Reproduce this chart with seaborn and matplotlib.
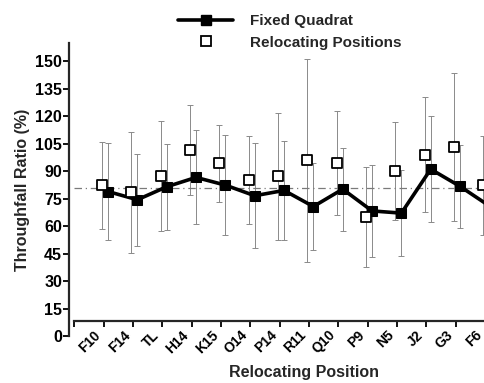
import numpy as np
import pandas as pd
import seaborn as sns
import matplotlib.pyplot as plt
import matplotlib.transforms as mtransforms
from matplotlib.lines import Line2D

# --- data ---
positions = ["F10", "F14", "TL", "H14", "K15", "O14", "P14",
             "R11", "Q10", "P9", "N5", "J2", "G3", "F6"]

fixed_mean = [78.9, 74.4, 81.5, 86.6, 82.4, 76.6, 79.5,
              70.7, 80.2, 68.3, 67.1, 91.1, 81.7, 71.0]
fixed_err = [26.7, 25.0, 23.6, 25.7, 27.4, 28.6, 27.1,
             23.7, 22.7, 24.9, 23.4, 29.0, 22.6, 25.0]

reloc_mean = [82.2, 78.4, 87.5, 101.5, 94.4, 85.3, 87.1,
              95.9, 94.4, 64.9, 90.2, 99.0, 103.2, 82.2]
reloc_err = [23.9, 32.9, 30.1, 24.4, 21.0, 24.0, 34.7,
             55.5, 28.5, 27.2, 26.9, 31.4, 40.6, 27.2]

overall_mean = 81.0
yticks = list(range(0, 151, 15))

sns.set_style("ticks")
plt.rcParams['font.family'] = ['Liberation Sans', 'DejaVu Sans']
plt.rcParams['font.weight'] = 'bold'

df = pd.DataFrame({
    "pos": np.arange(len(positions)),
    "fixed": fixed_mean,
    "fixed_err": fixed_err,
    "reloc": reloc_mean,
    "reloc_err": reloc_err,
})
df["x_fixed"] = df["pos"] + 0.15
df["x_reloc"] = df["pos"] - 0.06

fig = plt.figure(figsize=(4.85, 3.83), dpi=100)
ax = fig.add_axes([69 / 485, 1 - 336 / 383, 1 - 69 / 485, (336 - 43) / 383])

# error bars (thin grey)
ax.errorbar(df["x_reloc"], df["reloc"], yerr=df["reloc_err"], fmt="none",
            ecolor="#8a8a8a", elinewidth=0.7, capsize=2.5, capthick=0.7, zorder=1)
ax.errorbar(df["x_fixed"], df["fixed"], yerr=df["fixed_err"], fmt="none",
            ecolor="#8a8a8a", elinewidth=0.7, capsize=2.5, capthick=0.7, zorder=1)

# overall mean reference line
ax.axhline(overall_mean, xmin=0.013, xmax=1, color="#7a7a7a", lw=0.9,
           linestyle=(0, (6, 3, 1, 3)), zorder=1)

sns.lineplot(data=df, x="x_fixed", y="fixed", ax=ax, color="black", lw=2.6,
             marker="s", markersize=6.5, markeredgecolor="black", zorder=3)
sns.scatterplot(data=df, x="x_reloc", y="reloc", ax=ax, marker="s", s=48,
                facecolor="white", edgecolor="black", linewidth=1.3, zorder=4)

ax.set_xlim(-1.18, 13.0)
ax.set_ylim(0, 160)
ax.set_yticks(yticks)
ax.set_yticklabels([str(t) for t in yticks], fontsize=11.5, fontweight="bold")
ax.set_xticks(np.arange(-1, len(positions)))
ax.set_xticklabels([""] + positions, fontsize=11.5, fontweight="bold")

ax.spines["top"].set_visible(False)
ax.spines["right"].set_visible(False)
ax.spines["left"].set_linewidth(1.6)
ax.spines["bottom"].set_linewidth(1.6)
ax.spines["bottom"].set_position(("data", 8.2))
ax.spines["bottom"].set_bounds(-1, 13)
ax.tick_params(axis="both", direction="out", length=4, width=1.3,
               colors="black", pad=1)
ax.tick_params(axis="x", pad=1)
# rotated labels sit just left of their tick, as in the reference
shift = mtransforms.ScaledTranslation(-10 / 100, 0, fig.dpi_scale_trans)
for lab in ax.get_xticklabels():
    lab.set_rotation(45)
    lab.set_ha("right")
    lab.set_rotation_mode("anchor")
    lab.set_transform(lab.get_transform() + shift)

ax.set_xlabel("Relocating Position", fontsize=11.5, fontweight="bold")
ax.set_ylabel("Throughfall Ratio (%)", fontsize=11.5, fontweight="bold")
ax.xaxis.set_label_coords((304 - 69) / (485 - 69), -0.1)
ax.yaxis.set_label_coords(-0.094, 0.5)

handles = [
    Line2D([], [], color="black", lw=2.6, marker="s", markersize=6.5),
    Line2D([], [], color="none", marker="s", markersize=7,
           markerfacecolor="white", markeredgecolor="black", markeredgewidth=1.3),
]
fig.legend(handles, ["Fixed Quadrat", "Relocating Positions"],
           loc="upper left", bbox_to_anchor=(172 / 485, 1 - 8 / 383),
           frameon=False, handlelength=3.6, handletextpad=1.1,
           labelspacing=0.5, borderaxespad=0,
           prop={"size": 11, "weight": "bold"})

fig.savefig("out.png", dpi=100)
